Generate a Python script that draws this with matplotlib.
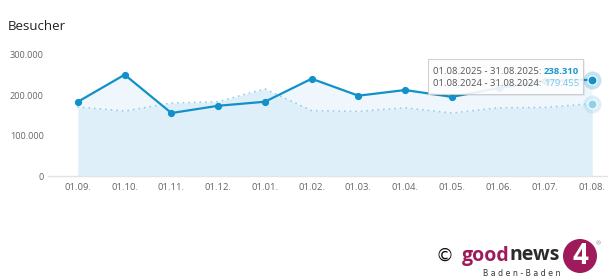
import matplotlib.pyplot as plt
from matplotlib.patches import FancyBboxPatch, Ellipse
from matplotlib.text import Annotation
from matplotlib.ticker import FuncFormatter
import numpy as np

plt.rcParams['font.family'] = ['Open Sans', 'DejaVu Sans']

months = ["01.09.", "01.10.", "01.11.", "01.12.", "01.01.", "01.02.",
          "01.03.", "01.04.", "01.05.", "01.06.", "01.07.", "01.08."]
visitors_2025 = [184000, 251000, 156000, 174000, 184000, 241000,
                 199000, 213000, 196000, 218000, 236000, 238310]
visitors_2024 = [171000, 161000, 181000, 184000, 216000, 162000,
                 160000, 169000, 156000, 169000, 170000, 179455]
y_ticks = [0, 100000, 200000, 300000]

blue = "#1290c9"
light_blue = "#8fd0ea"

W, H = 608, 280
def fx(px):
    return px / W
def fy(py):
    return 1 - py / H

def fmt(v):
    return f"{int(round(v)):,}".replace(",", ".")

fig = plt.figure(figsize=(6.08, 2.8), dpi=100)
ax = fig.add_axes([fx(48), fy(176), fx(608) - fx(48), fy(40) - fy(176)])
x = np.arange(len(months))

ax.fill_between(x, visitors_2025, color="#eff7fc", lw=0, zorder=1)
ax.fill_between(x, visitors_2024, color="#dfeff9", lw=0, zorder=1)
ax.plot(x, visitors_2024, color=light_blue, lw=1.3, linestyle=(0, (0.1, 3.0)),
        dash_capstyle="round", zorder=2)
ax.plot(x, visitors_2025, color=blue, lw=1.6, marker="o", markersize=4.2, zorder=3)

# hovered point
ax.plot(x[-1], visitors_2025[-1], "o", color=blue, markersize=13, alpha=0.25, mec="none", zorder=4)
ax.plot(x[-1], visitors_2025[-1], "o", color=blue, markersize=6.5, mec="white", mew=0.8, zorder=5)
ax.plot(x[-1], visitors_2024[-1], "o", color=light_blue, markersize=13, alpha=0.3, mec="none", zorder=4)
ax.plot(x[-1], visitors_2024[-1], "o", color=light_blue, markersize=6.5, mec="white", mew=0.8, zorder=5)

ax.set_xlim(-0.64, 11.34)
ax.set_ylim(0, 337000)
ax.set_xticks(x)
ax.set_xticklabels(months)
ax.set_yticks(y_ticks)
ax.yaxis.set_major_formatter(FuncFormatter(lambda v, p: fmt(v)))
ax.tick_params(axis="x", length=0, pad=5, labelsize=6.8, labelcolor="#666666")
ax.tick_params(axis="y", length=0, pad=3, labelsize=6.6, labelcolor="#666666")
for s in ["top", "right", "left"]:
    ax.spines[s].set_visible(False)
ax.spines["bottom"].set_color("#e3e3e3")
ax.spines["bottom"].set_linewidth(1)

fig.text(fx(8), fy(27), "Besucher", fontsize=9.5, color="#222222", va="center", ha="left")

# tooltip
shadow = FancyBboxPatch((fx(430), fy(96)), fx(583) - fx(428), fy(59) - fy(94),
                        boxstyle="square,pad=0", transform=fig.transFigure,
                        facecolor="#000000", edgecolor="none", alpha=0.06, zorder=9)
fig.patches.append(shadow)
box = FancyBboxPatch((fx(428), fy(94)), fx(583) - fx(428), fy(59) - fy(94),
                     boxstyle="square,pad=0", transform=fig.transFigure,
                     facecolor="white", edgecolor="#cccccc", lw=0.8, alpha=0.9, zorder=10)
fig.patches.append(box)
t1 = fig.text(fx(433), fy(71), "01.08.2025 - 31.08.2025: ", fontsize=6.8,
              color="#555555", va="center", ha="left", zorder=11)
fig.add_artist(Annotation(fmt(visitors_2025[-1]), xy=(1, 0.5), xycoords=t1, va="center",
                          ha="left", fontsize=6.8, color="#1a96cf", fontweight="bold",
                          annotation_clip=False, zorder=11))
t2 = fig.text(fx(433), fy(84), "01.08.2024 - 31.08.2024: ", fontsize=6.8,
              color="#555555", va="center", ha="left", zorder=11)
fig.add_artist(Annotation(fmt(visitors_2024[-1]), xy=(1, 0.5), xycoords=t2, va="center",
                          ha="left", fontsize=6.8, color="#7cc4ec",
                          annotation_clip=False, zorder=11))

# logo
magenta = "#9e1a5a"
fig.text(fx(445), fy(256), "\u00a9", fontsize=13, color="#111111", ha="center", va="center",
         family="DejaVu Sans")
g = fig.text(fx(462), fy(260.5), "good", fontsize=14, color=magenta, fontweight="bold",
             ha="left", va="baseline")
fig.add_artist(Annotation("news", xy=(1, 0), xycoords=g, va="bottom", ha="left", fontsize=14,
                          color="#2b2b2b", fontweight="bold", annotation_clip=False))
fig.text(fx(522), fy(273), "B a d e n - B a d e n", fontsize=5.6, color="#333333",
         ha="center", va="center", family="DejaVu Sans")
circ = Ellipse((fx(580), fy(256)), 34 / W, 34 / H, transform=fig.transFigure,
               facecolor=magenta, edgecolor="none")
fig.patches.append(circ)
fig.text(fx(580), fy(257), "4", fontsize=20, color="white", fontweight="bold",
         ha="center", va="center")
fig.text(fx(598), fy(244), "\u00ae", fontsize=4.5, color="#888888", ha="center", va="center")

fig.savefig("out.png", dpi=100, facecolor="white")
